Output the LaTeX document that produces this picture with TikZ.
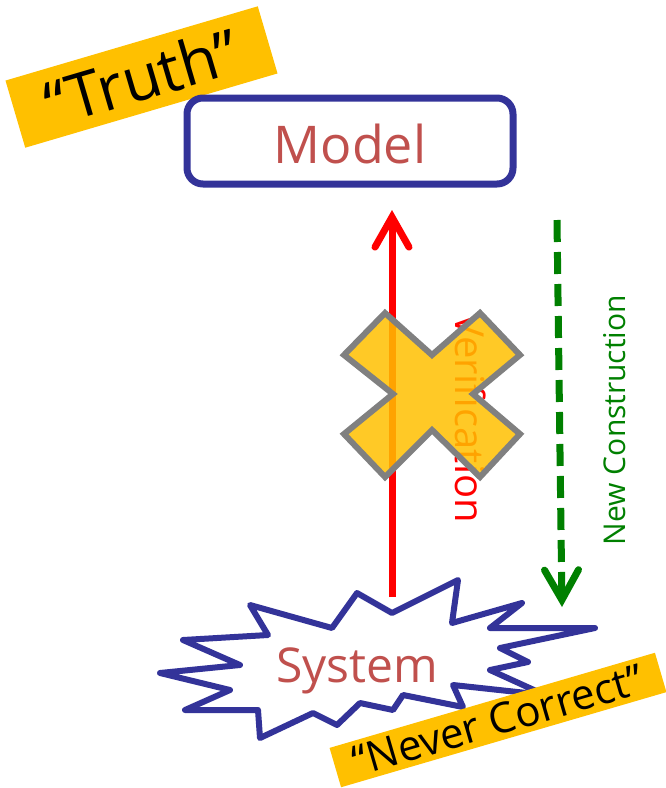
\documentclass[tikz,border=0pt]{standalone}
\usepackage{fontspec}
\setmainfont{Open Sans}
\usetikzlibrary{arrows.meta}
\definecolor{navy}{HTML}{333399}
\definecolor{brick}{HTML}{C0504D}
\definecolor{gold}{HTML}{FFC000}
\definecolor{leaf}{HTML}{008000}
\tikzset{
  banner/.style={fill=gold,inner sep=0pt,text=black},
  tag/.style={text=brick,inner sep=0pt},
}
\begin{document}
\begin{tikzpicture}[x=1pt,y=-1pt]
  \useasboundingbox (0,0) rectangle (666,788);
  \clip (0,0) rectangle (666,788);
  % the two labels on yellow
  \node[banner,rotate=16.4,minimum width=263pt,minimum height=70pt,
        font=\fontsize{62}{62}\selectfont] (truth) at (141.5,77) {“Truth”};
  \node[draw=navy,line width=7pt,rounded corners=16pt,minimum width=326pt,
        minimum height=86pt] (model) at (350,141) {};
  \node[tag,anchor=base,font=\fontsize{52}{52}\selectfont] (modeltxt) at (350,163) {Model};
  \draw[navy,line width=6pt,line join=round,fill=white]
    (250,605) -- (332,628) -- (357,593) -- (392,613) -- (458,580) -- (452,623)
    -- (522,603) -- (490,628) -- (595,628) -- (500,648) -- (528,662) -- (490,670)
    -- (545,695) -- (453,685) -- (463,707) -- (403,695) -- (393,710) -- (360,703)
    -- (337,725) -- (313,713) -- (260,738) -- (258,710) -- (185,710) -- (230,690)
    -- (160,673) -- (240,665) -- (183,640) -- (268,635) -- cycle;
  \node[tag,anchor=base,font=\fontsize{48}{48}\selectfont] (system) at (357,682) {System};
  \coordinate (vbot) at (392,597);
  \coordinate (vtop) at (392,210);
  \draw[red,line width=7pt,-{Straight Barb[length=30pt,width=34pt,line cap=round]}] (vbot) -- (vtop);
  \node[text=red,rotate=-90,inner sep=0pt,font=\fontsize{40}{40}\selectfont] (verif) at (471,418) {Verification};
  \filldraw[gray,fill=gold,fill opacity=0.85,line width=6pt,line join=miter]
    (385,313) -- (432,355) -- (480,313) -- (520,355) -- (473,394) -- (520,434)
    -- (480,477) -- (432,430) -- (385,477) -- (344,434) -- (393,394) -- (344,355) -- cycle;
  \coordinate (ctop) at (557,220);
  \coordinate (cbot) at (562,607);
  \draw[leaf,line width=7pt,dash pattern=on 22pt off 10pt,
        -{Straight Barb[length=30pt,width=34pt,line cap=round]}] (ctop) -- (cbot);
  \node[text=leaf,rotate=90,inner sep=0pt,font=\fontsize{30}{30}\selectfont] (constr) at (615,420) {New Construction};
  \node[banner,rotate=16.3,minimum width=339pt,minimum height=41pt,
        font=\fontsize{42}{42}\selectfont] (never) at (498,720) {“Never Correct”};
\end{tikzpicture}
\end{document}
